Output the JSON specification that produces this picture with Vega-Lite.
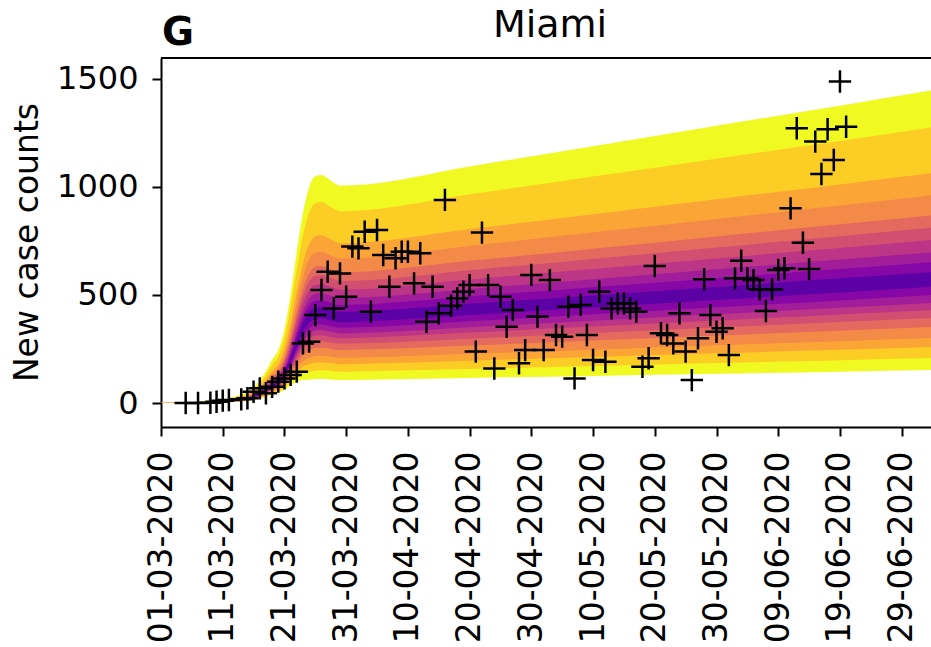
{
  "$schema": "https://vega.github.io/schema/vega-lite/v6.json",
  "width": 770,
  "height": 369,
  "autosize": {"type": "none"},
  "padding": {"left": 161, "top": 58, "right": 0, "bottom": 220},
  "background": "white",
  "title": {
    "text": "Miami",
    "font": "DejaVu Sans",
    "fontSize": 38,
    "fontWeight": "normal",
    "color": "black",
    "anchor": "middle",
    "baseline": "alphabetic",
    "offset": -27,
    "dy": 34,
    "dx": 4
  },
  "config": {
    "view": {"stroke": null},
    "font": "DejaVu Sans",
    "axis": {
      "grid": false,
      "domainColor": "black",
      "domainWidth": 2,
      "tickColor": "black",
      "tickWidth": 2,
      "tickSize": 9,
      "labelColor": "black",
      "labelFont": "DejaVu Sans",
      "titleFont": "DejaVu Sans",
      "titleColor": "black",
      "titleFontWeight": "normal",
      "labelOverlap": false,
      "labelFlush": false,
      "labelLimit": 0
    }
  },
  "datasets": {
    "bands": [
      {"d":"2020-03-01","q":1,"lo":0.2,"hi":1.0},{"d":"2020-03-01","q":2,"lo":0.2,"hi":0.9},{"d":"2020-03-01","q":3,"lo":0.2,"hi":0.7},{"d":"2020-03-01","q":4,"lo":0.3,"hi":0.7},{"d":"2020-03-01","q":5,"lo":0.3,"hi":0.6},{"d":"2020-03-01","q":6,"lo":0.3,"hi":0.6},{"d":"2020-03-01","q":7,"lo":0.3,"hi":0.5},{"d":"2020-03-01","q":8,"lo":0.3,"hi":0.5},{"d":"2020-03-01","q":9,"lo":0.4,"hi":0.5},{"d":"2020-03-01","q":10,"lo":0.4,"hi":0.45},
      {"d":"2020-03-08","q":1,"lo":1.5,"hi":7.6},{"d":"2020-03-08","q":2,"lo":1.7,"hi":6.7},{"d":"2020-03-08","q":3,"lo":1.9,"hi":5.6},{"d":"2020-03-08","q":4,"lo":2.0,"hi":5.0},{"d":"2020-03-08","q":5,"lo":2.2,"hi":4.6},{"d":"2020-03-08","q":6,"lo":2.3,"hi":4.3},{"d":"2020-03-08","q":7,"lo":2.5,"hi":4.0},{"d":"2020-03-08","q":8,"lo":2.6,"hi":3.7},{"d":"2020-03-08","q":9,"lo":2.7,"hi":3.4},{"d":"2020-03-08","q":10,"lo":2.9,"hi":3.2},
      {"d":"2020-03-13","q":1,"lo":5.8,"hi":30.4},{"d":"2020-03-13","q":2,"lo":6.7,"hi":26.8},{"d":"2020-03-13","q":3,"lo":7.4,"hi":22.3},{"d":"2020-03-13","q":4,"lo":8.0,"hi":20.2},{"d":"2020-03-13","q":5,"lo":8.8,"hi":18.2},{"d":"2020-03-13","q":6,"lo":9.4,"hi":17.0},{"d":"2020-03-13","q":7,"lo":9.9,"hi":15.8},{"d":"2020-03-13","q":8,"lo":10.4,"hi":14.6},{"d":"2020-03-13","q":9,"lo":10.9,"hi":13.7},{"d":"2020-03-13","q":10,"lo":11.5,"hi":12.7},
      {"d":"2020-03-16","q":1,"lo":14,"hi":71},{"d":"2020-03-16","q":2,"lo":16,"hi":62},{"d":"2020-03-16","q":3,"lo":17,"hi":52},{"d":"2020-03-16","q":4,"lo":19,"hi":47},{"d":"2020-03-16","q":5,"lo":20,"hi":43},{"d":"2020-03-16","q":6,"lo":22,"hi":40},{"d":"2020-03-16","q":7,"lo":23,"hi":37},{"d":"2020-03-16","q":8,"lo":24,"hi":34},{"d":"2020-03-16","q":9,"lo":26,"hi":32},{"d":"2020-03-16","q":10,"lo":27,"hi":30},
      {"d":"2020-03-18","q":1,"lo":28,"hi":147},{"d":"2020-03-18","q":2,"lo":32,"hi":129},{"d":"2020-03-18","q":3,"lo":36,"hi":108},{"d":"2020-03-18","q":4,"lo":39,"hi":97},{"d":"2020-03-18","q":5,"lo":42,"hi":88},{"d":"2020-03-18","q":6,"lo":45,"hi":82},{"d":"2020-03-18","q":7,"lo":48,"hi":77},{"d":"2020-03-18","q":8,"lo":50,"hi":71},{"d":"2020-03-18","q":9,"lo":53,"hi":66},{"d":"2020-03-18","q":10,"lo":56,"hi":61},
      {"d":"2020-03-19","q":1,"lo":38,"hi":200},{"d":"2020-03-19","q":2,"lo":44,"hi":176},{"d":"2020-03-19","q":3,"lo":49,"hi":147},{"d":"2020-03-19","q":4,"lo":53,"hi":133},{"d":"2020-03-19","q":5,"lo":58,"hi":120},{"d":"2020-03-19","q":6,"lo":62,"hi":112},{"d":"2020-03-19","q":7,"lo":65,"hi":104},{"d":"2020-03-19","q":8,"lo":68,"hi":96},{"d":"2020-03-19","q":9,"lo":72,"hi":90},{"d":"2020-03-19","q":10,"lo":76,"hi":84},
      {"d":"2020-03-20","q":1,"lo":47,"hi":245},{"d":"2020-03-20","q":2,"lo":54,"hi":216},{"d":"2020-03-20","q":3,"lo":60,"hi":180},{"d":"2020-03-20","q":4,"lo":65,"hi":163},{"d":"2020-03-20","q":5,"lo":71,"hi":147},{"d":"2020-03-20","q":6,"lo":76,"hi":138},{"d":"2020-03-20","q":7,"lo":80,"hi":128},{"d":"2020-03-20","q":8,"lo":84,"hi":118},{"d":"2020-03-20","q":9,"lo":88,"hi":111},{"d":"2020-03-20","q":10,"lo":93,"hi":103},
      {"d":"2020-03-21","q":1,"lo":60,"hi":339},{"d":"2020-03-21","q":2,"lo":70,"hi":299},{"d":"2020-03-21","q":3,"lo":79,"hi":249},{"d":"2020-03-21","q":4,"lo":86,"hi":225},{"d":"2020-03-21","q":5,"lo":95,"hi":204},{"d":"2020-03-21","q":6,"lo":103,"hi":190},{"d":"2020-03-21","q":7,"lo":109,"hi":177},{"d":"2020-03-21","q":8,"lo":115,"hi":163},{"d":"2020-03-21","q":9,"lo":121,"hi":153},{"d":"2020-03-21","q":10,"lo":128,"hi":142},
      {"d":"2020-03-22","q":1,"lo":82,"hi":501},{"d":"2020-03-22","q":2,"lo":97,"hi":442},{"d":"2020-03-22","q":3,"lo":111,"hi":368},{"d":"2020-03-22","q":4,"lo":123,"hi":333},{"d":"2020-03-22","q":5,"lo":137,"hi":301},{"d":"2020-03-22","q":6,"lo":149,"hi":281},{"d":"2020-03-22","q":7,"lo":159,"hi":261},{"d":"2020-03-22","q":8,"lo":168,"hi":242},{"d":"2020-03-22","q":9,"lo":178,"hi":226},{"d":"2020-03-22","q":10,"lo":188,"hi":210},
      {"d":"2020-03-23","q":1,"lo":98,"hi":701},{"d":"2020-03-23","q":2,"lo":122,"hi":618},{"d":"2020-03-23","q":3,"lo":144,"hi":515},{"d":"2020-03-23","q":4,"lo":161,"hi":465},{"d":"2020-03-23","q":5,"lo":183,"hi":421},{"d":"2020-03-23","q":6,"lo":201,"hi":393},{"d":"2020-03-23","q":7,"lo":217,"hi":366},{"d":"2020-03-23","q":8,"lo":231,"hi":338},{"d":"2020-03-23","q":9,"lo":246,"hi":316},{"d":"2020-03-23","q":10,"lo":262,"hi":294},
      {"d":"2020-03-24","q":1,"lo":108,"hi":880},{"d":"2020-03-24","q":2,"lo":140,"hi":776},{"d":"2020-03-24","q":3,"lo":169,"hi":647},{"d":"2020-03-24","q":4,"lo":193,"hi":585},{"d":"2020-03-24","q":5,"lo":222,"hi":529},{"d":"2020-03-24","q":6,"lo":246,"hi":494},{"d":"2020-03-24","q":7,"lo":267,"hi":459},{"d":"2020-03-24","q":8,"lo":286,"hi":425},{"d":"2020-03-24","q":9,"lo":307,"hi":397},{"d":"2020-03-24","q":10,"lo":329,"hi":369},
      {"d":"2020-03-25","q":1,"lo":108,"hi":999},{"d":"2020-03-25","q":2,"lo":144,"hi":881},{"d":"2020-03-25","q":3,"lo":179,"hi":735},{"d":"2020-03-25","q":4,"lo":208,"hi":664},{"d":"2020-03-25","q":5,"lo":243,"hi":600},{"d":"2020-03-25","q":6,"lo":272,"hi":561},{"d":"2020-03-25","q":7,"lo":297,"hi":521},{"d":"2020-03-25","q":8,"lo":320,"hi":482},{"d":"2020-03-25","q":9,"lo":345,"hi":450},{"d":"2020-03-25","q":10,"lo":371,"hi":419},
      {"d":"2020-03-26","q":1,"lo":111,"hi":1050},{"d":"2020-03-26","q":2,"lo":151,"hi":925},{"d":"2020-03-26","q":3,"lo":188,"hi":772},{"d":"2020-03-26","q":4,"lo":218,"hi":697},{"d":"2020-03-26","q":5,"lo":255,"hi":631},{"d":"2020-03-26","q":6,"lo":286,"hi":589},{"d":"2020-03-26","q":7,"lo":312,"hi":548},{"d":"2020-03-26","q":8,"lo":336,"hi":506},{"d":"2020-03-26","q":9,"lo":363,"hi":473},{"d":"2020-03-26","q":10,"lo":390,"hi":440},
      {"d":"2020-03-27","q":1,"lo":111,"hi":1055},{"d":"2020-03-27","q":2,"lo":152,"hi":930},{"d":"2020-03-27","q":3,"lo":189,"hi":776},{"d":"2020-03-27","q":4,"lo":219,"hi":701},{"d":"2020-03-27","q":5,"lo":256,"hi":634},{"d":"2020-03-27","q":6,"lo":287,"hi":592},{"d":"2020-03-27","q":7,"lo":314,"hi":550},{"d":"2020-03-27","q":8,"lo":338,"hi":509},{"d":"2020-03-27","q":9,"lo":364,"hi":475},{"d":"2020-03-27","q":10,"lo":392,"hi":442},
      {"d":"2020-03-28","q":1,"lo":110,"hi":1040},{"d":"2020-03-28","q":2,"lo":150,"hi":917},{"d":"2020-03-28","q":3,"lo":186,"hi":764},{"d":"2020-03-28","q":4,"lo":216,"hi":690},{"d":"2020-03-28","q":5,"lo":253,"hi":625},{"d":"2020-03-28","q":6,"lo":283,"hi":584},{"d":"2020-03-28","q":7,"lo":309,"hi":543},{"d":"2020-03-28","q":8,"lo":333,"hi":501},{"d":"2020-03-28","q":9,"lo":359,"hi":469},{"d":"2020-03-28","q":10,"lo":386,"hi":436},
      {"d":"2020-03-29","q":1,"lo":108,"hi":1020},{"d":"2020-03-29","q":2,"lo":147,"hi":899},{"d":"2020-03-29","q":3,"lo":183,"hi":750},{"d":"2020-03-29","q":4,"lo":212,"hi":677},{"d":"2020-03-29","q":5,"lo":248,"hi":613},{"d":"2020-03-29","q":6,"lo":278,"hi":572},{"d":"2020-03-29","q":7,"lo":303,"hi":532},{"d":"2020-03-29","q":8,"lo":326,"hi":492},{"d":"2020-03-29","q":9,"lo":352,"hi":459},{"d":"2020-03-29","q":10,"lo":379,"hi":427},
      {"d":"2020-03-30","q":1,"lo":106,"hi":1007},{"d":"2020-03-30","q":2,"lo":145,"hi":888},{"d":"2020-03-30","q":3,"lo":180,"hi":740},{"d":"2020-03-30","q":4,"lo":209,"hi":669},{"d":"2020-03-30","q":5,"lo":245,"hi":605},{"d":"2020-03-30","q":6,"lo":274,"hi":565},{"d":"2020-03-30","q":7,"lo":300,"hi":525},{"d":"2020-03-30","q":8,"lo":322,"hi":486},{"d":"2020-03-30","q":9,"lo":348,"hi":454},{"d":"2020-03-30","q":10,"lo":374,"hi":422},
      {"d":"2020-04-01","q":1,"lo":107,"hi":1008},{"d":"2020-04-01","q":2,"lo":146,"hi":889},{"d":"2020-04-01","q":3,"lo":181,"hi":741},{"d":"2020-04-01","q":4,"lo":210,"hi":670},{"d":"2020-04-01","q":5,"lo":246,"hi":606},{"d":"2020-04-01","q":6,"lo":275,"hi":566},{"d":"2020-04-01","q":7,"lo":301,"hi":526},{"d":"2020-04-01","q":8,"lo":323,"hi":487},{"d":"2020-04-01","q":9,"lo":349,"hi":455},{"d":"2020-04-01","q":10,"lo":375,"hi":423},
      {"d":"2020-04-20","q":1,"lo":116,"hi":1095},{"d":"2020-04-20","q":2,"lo":158,"hi":966},{"d":"2020-04-20","q":3,"lo":196,"hi":805},{"d":"2020-04-20","q":4,"lo":228,"hi":727},{"d":"2020-04-20","q":5,"lo":266,"hi":658},{"d":"2020-04-20","q":6,"lo":298,"hi":615},{"d":"2020-04-20","q":7,"lo":326,"hi":572},{"d":"2020-04-20","q":8,"lo":351,"hi":528},{"d":"2020-04-20","q":9,"lo":378,"hi":494},{"d":"2020-04-20","q":10,"lo":407,"hi":459},
      {"d":"2020-05-10","q":1,"lo":125,"hi":1189},{"d":"2020-05-10","q":2,"lo":171,"hi":1048},{"d":"2020-05-10","q":3,"lo":213,"hi":874},{"d":"2020-05-10","q":4,"lo":247,"hi":790},{"d":"2020-05-10","q":5,"lo":289,"hi":714},{"d":"2020-05-10","q":6,"lo":324,"hi":667},{"d":"2020-05-10","q":7,"lo":354,"hi":620},{"d":"2020-05-10","q":8,"lo":381,"hi":573},{"d":"2020-05-10","q":9,"lo":411,"hi":536},{"d":"2020-05-10","q":10,"lo":442,"hi":498},
      {"d":"2020-05-30","q":1,"lo":135,"hi":1283},{"d":"2020-05-30","q":2,"lo":185,"hi":1131},{"d":"2020-05-30","q":3,"lo":230,"hi":943},{"d":"2020-05-30","q":4,"lo":267,"hi":852},{"d":"2020-05-30","q":5,"lo":312,"hi":771},{"d":"2020-05-30","q":6,"lo":349,"hi":720},{"d":"2020-05-30","q":7,"lo":382,"hi":669},{"d":"2020-05-30","q":8,"lo":411,"hi":619},{"d":"2020-05-30","q":9,"lo":443,"hi":578},{"d":"2020-05-30","q":10,"lo":477,"hi":537},
      {"d":"2020-06-19","q":1,"lo":145,"hi":1376},{"d":"2020-06-19","q":2,"lo":198,"hi":1213},{"d":"2020-06-19","q":3,"lo":246,"hi":1012},{"d":"2020-06-19","q":4,"lo":286,"hi":914},{"d":"2020-06-19","q":5,"lo":335,"hi":827},{"d":"2020-06-19","q":6,"lo":375,"hi":772},{"d":"2020-06-19","q":7,"lo":410,"hi":718},{"d":"2020-06-19","q":8,"lo":441,"hi":664},{"d":"2020-06-19","q":9,"lo":475,"hi":620},{"d":"2020-06-19","q":10,"lo":511,"hi":577},
      {"d":"2020-07-05","q":1,"lo":153,"hi":1452},{"d":"2020-07-05","q":2,"lo":209,"hi":1280},{"d":"2020-07-05","q":3,"lo":260,"hi":1068},{"d":"2020-07-05","q":4,"lo":302,"hi":964},{"d":"2020-07-05","q":5,"lo":353,"hi":872},{"d":"2020-07-05","q":6,"lo":395,"hi":815},{"d":"2020-07-05","q":7,"lo":432,"hi":758},{"d":"2020-07-05","q":8,"lo":465,"hi":700},{"d":"2020-07-05","q":9,"lo":502,"hi":654},{"d":"2020-07-05","q":10,"lo":540,"hi":608}
    ],
    "cases": [
      {"d":"2020-03-05","n":0},{"d":"2020-03-07","n":0},{"d":"2020-03-09","n":1},{"d":"2020-03-10","n":6},{"d":"2020-03-11","n":11},{"d":"2020-03-12","n":14},{"d":"2020-03-14","n":17},{"d":"2020-03-15","n":22},{"d":"2020-03-16","n":52},{"d":"2020-03-17","n":68},
      {"d":"2020-03-18","n":45},{"d":"2020-03-19","n":75},{"d":"2020-03-20","n":99},{"d":"2020-03-21","n":114},{"d":"2020-03-22","n":130},{"d":"2020-03-23","n":145},{"d":"2020-03-24","n":276},{"d":"2020-03-25","n":284},{"d":"2020-03-26","n":407},{"d":"2020-03-27","n":523},
      {"d":"2020-03-28","n":608},{"d":"2020-03-29","n":438},{"d":"2020-03-30","n":600},{"d":"2020-03-31","n":492},{"d":"2020-04-01","n":724},{"d":"2020-04-02","n":716},{"d":"2020-04-03","n":793},{"d":"2020-04-04","n":423},{"d":"2020-04-05","n":801},{"d":"2020-04-06","n":685},
      {"d":"2020-04-07","n":538},{"d":"2020-04-08","n":670},{"d":"2020-04-09","n":700},{"d":"2020-04-10","n":700},{"d":"2020-04-11","n":554},{"d":"2020-04-12","n":693},{"d":"2020-04-13","n":376},{"d":"2020-04-14","n":538},{"d":"2020-04-15","n":415},{"d":"2020-04-16","n":940},
      {"d":"2020-04-17","n":450},{"d":"2020-04-18","n":485},{"d":"2020-04-19","n":515},{"d":"2020-04-20","n":546},{"d":"2020-04-21","n":238},{"d":"2020-04-22","n":789},{"d":"2020-04-23","n":546},{"d":"2020-04-24","n":160},{"d":"2020-04-25","n":492},{"d":"2020-04-26","n":353},
      {"d":"2020-04-27","n":431},{"d":"2020-04-28","n":184},{"d":"2020-04-29","n":245},{"d":"2020-04-30","n":593},{"d":"2020-05-01","n":400},{"d":"2020-05-02","n":245},{"d":"2020-05-03","n":569},{"d":"2020-05-04","n":315},{"d":"2020-05-05","n":307},{"d":"2020-05-06","n":446},
      {"d":"2020-05-07","n":114},{"d":"2020-05-08","n":454},{"d":"2020-05-09","n":315},{"d":"2020-05-10","n":199},{"d":"2020-05-11","n":515},{"d":"2020-05-12","n":191},{"d":"2020-05-13","n":438},{"d":"2020-05-14","n":461},{"d":"2020-05-15","n":461},{"d":"2020-05-16","n":438},
      {"d":"2020-05-17","n":423},{"d":"2020-05-18","n":168},{"d":"2020-05-19","n":207},{"d":"2020-05-20","n":634},{"d":"2020-05-21","n":323},{"d":"2020-05-22","n":315},{"d":"2020-05-23","n":276},{"d":"2020-05-24","n":415},{"d":"2020-05-25","n":238},{"d":"2020-05-26","n":106},
      {"d":"2020-05-27","n":300},{"d":"2020-05-28","n":573},{"d":"2020-05-29","n":407},{"d":"2020-05-30","n":330},{"d":"2020-05-31","n":346},{"d":"2020-06-01","n":222},{"d":"2020-06-02","n":577},{"d":"2020-06-03","n":659},{"d":"2020-06-04","n":577},{"d":"2020-06-05","n":569},
      {"d":"2020-06-06","n":526},{"d":"2020-06-07","n":426},{"d":"2020-06-08","n":526},{"d":"2020-06-09","n":616},{"d":"2020-06-10","n":624},{"d":"2020-06-11","n":901},{"d":"2020-06-12","n":1272},{"d":"2020-06-13","n":742},{"d":"2020-06-14","n":620},{"d":"2020-06-15","n":1210},
      {"d":"2020-06-16","n":1060},{"d":"2020-06-17","n":1267},{"d":"2020-06-18","n":1125},{"d":"2020-06-19","n":1488},{"d":"2020-06-20","n":1279}
    ]
  },
  "layer": [
    {
      "data": {"name": "bands"},
      "mark": {"type": "area", "interpolate": "monotone", "clip": true, "opacity": 1},
      "encoding": {
        "x": {
          "field": "d",
          "type": "temporal",
          "scale": {
            "type": "utc",
            "domain": [
              {"year": 2020, "month": 3, "date": 1, "utc": true},
              {"year": 2020, "month": 7, "date": 3, "hours": 18, "utc": true}
            ]
          },
          "axis": {
            "title": null,
            "format": "%d-%m-%Y",
            "values": [
              {"year": 2020, "month": 3, "date": 1, "utc": true},
              {"year": 2020, "month": 3, "date": 11, "utc": true},
              {"year": 2020, "month": 3, "date": 21, "utc": true},
              {"year": 2020, "month": 3, "date": 31, "utc": true},
              {"year": 2020, "month": 4, "date": 10, "utc": true},
              {"year": 2020, "month": 4, "date": 20, "utc": true},
              {"year": 2020, "month": 4, "date": 30, "utc": true},
              {"year": 2020, "month": 5, "date": 10, "utc": true},
              {"year": 2020, "month": 5, "date": 20, "utc": true},
              {"year": 2020, "month": 5, "date": 30, "utc": true},
              {"year": 2020, "month": 6, "date": 9, "utc": true},
              {"year": 2020, "month": 6, "date": 19, "utc": true},
              {"year": 2020, "month": 6, "date": 29, "utc": true}
            ],
            "labelAngle": -90,
            "labelAlign": "right",
            "labelBaseline": "middle",
            "labelFontSize": 33,
            "labelPadding": 15
          }
        },
        "y": {
          "field": "lo",
          "type": "quantitative",
          "stack": null,
          "scale": {"domain": [-111, 1597], "nice": false, "zero": false},
          "axis": {
            "title": "New case counts",
            "values": [0, 500, 1000, 1500],
            "format": "d",
            "labelFontSize": 32,
            "labelPadding": 14,
            "titleFontSize": 33,
            "titleAngle": -90,
            "titleX": -124,
            "titleY": 184,
            "titleAlign": "center",
            "titleBaseline": "alphabetic"
          }
        },
        "y2": {"field": "hi"},
        "color": {
          "field": "q",
          "type": "ordinal",
          "legend": null,
          "scale": {
            "domain": [1, 2, 3, 4, 5, 6, 7, 8, 9, 10],
            "range": ["#f0f921", "#fccd25", "#fca537", "#f48a47", "#e4695e", "#d24f71", "#bc3587", "#a21d9a", "#8707a6", "#5c01a6"]
          }
        }
      }
    },
    {
      "data": {"name": "cases"},
      "mark": {"type": "point", "shape": "M-1,0H1M0,-1V1", "size": 500, "filled": false, "stroke": "black", "strokeWidth": 2.5, "opacity": 1},
      "encoding": {
        "x": {"field": "d", "type": "temporal"},
        "y": {"field": "n", "type": "quantitative", "title": "New case counts"}
      }
    },
    {
      "data": {"values": [{}]},
      "mark": {"type": "rule", "color": "black", "strokeWidth": 2},
      "encoding": {"y": {"datum": 1597, "type": "quantitative"}}
    },
    {
      "data": {"values": [{"label": "G"}]},
      "mark": {"type": "text", "font": "DejaVu Sans", "fontSize": 39, "fontWeight": "bold", "align": "left", "baseline": "alphabetic", "color": "black", "dx": 1},
      "encoding": {
        "x": {"datum": {"year": 2020, "month": 3, "date": 1, "utc": true}, "type": "temporal"},
        "y": {"datum": 1657, "type": "quantitative"},
        "text": {"field": "label"}
      }
    }
  ]
}
